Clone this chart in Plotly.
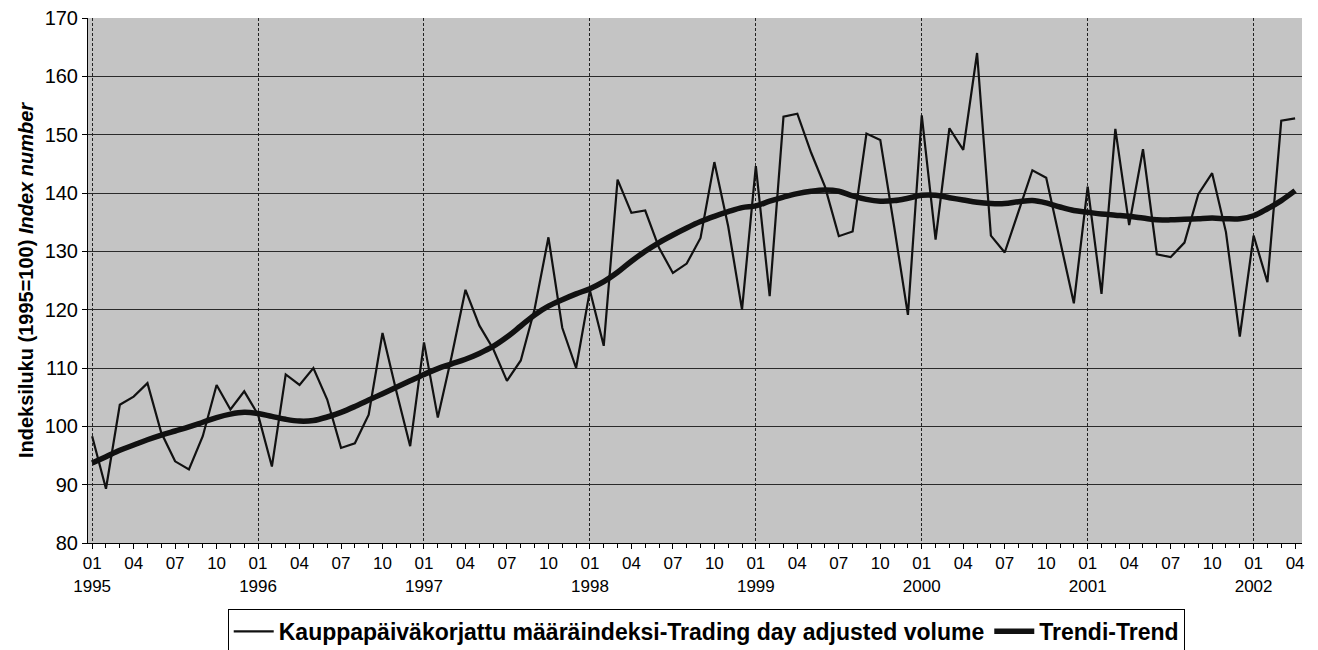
import plotly.graph_objects as go

years = [1995, 1996, 1997, 1998, 1999, 2000, 2001, 2002]
month_labels = ["01", "04", "07", "10"]

volume = [
    98.3, 89.3, 103.7, 105.1, 107.4, 98.9, 94.0, 92.6, 98.3, 107.1, 102.9, 106.0,
    102.0, 93.1, 108.9, 107.1, 110.0, 104.6, 96.3, 97.1, 102.0, 116.0, 106.0, 96.6,
    114.4, 101.5, 112.0, 123.4, 117.3, 113.3, 107.8, 111.3, 120.1, 132.4, 116.9, 110.0,
    123.3, 113.8, 142.3, 136.6, 137.0, 130.6, 126.3, 127.9, 132.3, 145.3, 134.3, 120.0,
    144.6, 122.3, 153.1, 153.6, 146.9, 141.1, 132.6, 133.4, 150.2, 149.1, 134.3, 119.1,
    153.3, 132.0, 151.1, 147.4, 164.0, 132.7, 129.8, 136.7, 143.9, 142.6, 132.1, 121.1,
    141.1, 122.7, 151.0, 134.5, 147.5, 129.5, 129.0, 131.5, 139.8, 143.4, 133.3, 115.4,
    132.7, 124.7, 152.4, 152.8,
]

trend = [
    93.7, 94.8, 95.9, 96.8, 97.7, 98.5, 99.2, 99.9, 100.7, 101.5, 102.1, 102.4,
    102.2, 101.7, 101.2, 100.9, 101.0, 101.6, 102.4, 103.4, 104.5, 105.6, 106.7, 107.8,
    108.9, 109.9, 110.7, 111.5, 112.5, 113.7, 115.3, 117.2, 119.1, 120.6, 121.7, 122.7,
    123.6, 124.8, 126.4, 128.3, 130.0, 131.5, 132.8, 134.0, 135.1, 136.0, 136.8, 137.5,
    137.8, 138.6, 139.3, 139.9, 140.3, 140.5, 140.3, 139.5, 138.9, 138.6, 138.7, 139.1,
    139.6, 139.6, 139.2, 138.8, 138.4, 138.2, 138.2, 138.5, 138.7, 138.3, 137.6, 137.0,
    136.7, 136.4, 136.2, 136.0, 135.7, 135.4, 135.4, 135.5, 135.6, 135.7, 135.6, 135.6,
    136.1, 137.3, 138.7, 140.4,
]

n = len(volume)
idx = list(range(n))

tickvals = []
ticktext = []
for i in range(0, n, 3):
    m = month_labels[(i % 12) // 3]
    if i % 12 == 0:
        ticktext.append(f"{m}<br>{years[i // 12]}")
    else:
        ticktext.append(m)
    tickvals.append(i)

jan_vals = [i for i in range(0, n, 12)]

fig = go.Figure()
fig.add_trace(go.Scatter(
    x=idx, y=volume, mode="lines",
    name="<b>Kauppapäiväkorjattu määräindeksi-Trading day adjusted volume</b>",
    line=dict(color="#111111", width=2.2),
))
fig.add_trace(go.Scatter(
    x=idx, y=trend, mode="lines",
    name="<b>Trendi-Trend</b>",
    line=dict(color="#111111", width=5.5, shape="spline"),
))
# invisible helper trace to carry the January gridline axis
fig.add_trace(go.Scatter(
    x=idx, y=trend, mode="lines", xaxis="x2", showlegend=False,
    hoverinfo="skip", line=dict(color="rgba(0,0,0,0)", width=0),
))

font_family = "Liberation Sans, Arial, sans-serif"
xr = [-0.3, n - 1 + 0.5]

fig.update_layout(
    width=1310, height=642,
    margin=dict(l=80, r=16, t=10, b=107, autoexpand=False),
    paper_bgcolor="white",
    plot_bgcolor="#c4c4c4",
    font=dict(family=font_family, color="black"),
    showlegend=True,
    legend=dict(
        orientation="h", x=0.533, xanchor="center", xref="container",
        y=0.064, yanchor="top", yref="container",
        bgcolor="white", bordercolor="black", borderwidth=1,
        font=dict(size=23, family=font_family, color="black"),
        itemwidth=40, tracegroupgap=0,
    ),
    xaxis=dict(
        range=xr, tickmode="array", tickvals=tickvals, ticktext=ticktext,
        showgrid=False, zeroline=False, showline=True, linecolor="black",
        ticks="outside", ticklen=5, tickcolor="black", automargin=False,
        minor=dict(dtick=1, tick0=0, ticks="outside", ticklen=4, tickcolor="black", showgrid=False),
        tickfont=dict(size=17, family=font_family, color="black"),
        ticklabeloverflow="allow",
    ),
    xaxis2=dict(
        range=xr, overlaying="x", matches="x", tickmode="array", tickvals=jan_vals,
        showticklabels=False, showgrid=True, gridcolor="#222222", gridwidth=1,
        griddash="3px,2px", zeroline=False, showline=False, ticks="", automargin=False,
    ),
    yaxis=dict(
        range=[80, 170], dtick=10, tick0=80,
        showgrid=True, gridcolor="#2a2a2a", gridwidth=1,
        zeroline=False, showline=True, linecolor="black",
        ticks="outside", ticklen=5, tickcolor="black", automargin=False,
        tickfont=dict(size=20, family=font_family, color="black"),
        ticklabeloverflow="allow",
        title=dict(
            text="<b>Indeksiluku (1995=100) <i>Index number</i></b>",
            font=dict(size=20, family=font_family, color="black"),
            standoff=5,
        ),
    ),
    shapes=[
        dict(type="line", xref="paper", yref="paper", x0=1.009, x1=1.009, y0=-0.3, y1=1.05,
             line=dict(color="#555555", width=1.5)),
    ],
)

fig.write_html("out.html")
